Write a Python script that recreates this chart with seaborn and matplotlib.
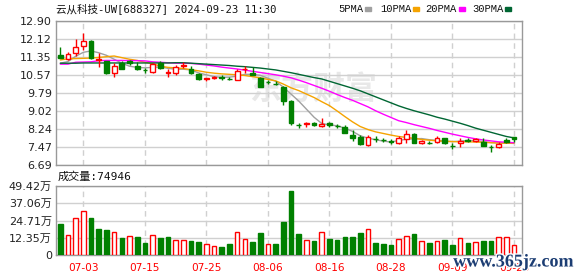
import numpy as np
import pandas as pd
import matplotlib
matplotlib.use("Agg")
import matplotlib.pyplot as plt
import matplotlib.patheffects as pe
from matplotlib.patches import Rectangle
import seaborn as sns

# ---------------- data ----------------
title = "云从科技-UW[688327] 2024-09-23 11:30"
dates = ["06-28", "07-01", "07-02", "07-03", "07-04", "07-05", "07-08", "07-09", "07-10", "07-11",
         "07-12", "07-15", "07-16", "07-17", "07-18", "07-19", "07-22", "07-23", "07-24", "07-25",
         "07-26", "07-29", "07-30", "07-31", "08-01", "08-02", "08-05", "08-06", "08-07", "08-08",
         "08-09", "08-12", "08-13", "08-14", "08-15", "08-16", "08-19", "08-20", "08-21", "08-22",
         "08-23", "08-26", "08-27", "08-28", "08-29", "08-30", "09-02", "09-03", "09-04", "09-05",
         "09-06", "09-09", "09-10", "09-11", "09-12", "09-13", "09-18", "09-19", "09-20", "09-23"]
open_ = [11.43, 11.28, 11.51, 11.81, 12.04, 11.22, 11.17, 10.64, 11.08, 11.17,
         10.96, 10.80, 10.71, 11.10, 10.66, 10.65, 10.98, 10.82, 10.61, 10.38,
         10.45, 10.47, 10.41, 10.36, 10.81, 10.67, 10.45, 10.27, 10.20, 10.07,
         9.46, 8.42, 8.47, 8.49, 8.38, 8.51, 8.38, 8.32, 7.98, 7.90,
         7.56, 7.82, 7.77, 7.72, 7.64, 7.80, 8.02, 7.64, 7.66, 7.67,
         7.84, 7.53, 7.64, 7.78, 7.73, 7.70, 7.46, 7.48, 7.77, 7.88]
high = [11.78, 11.55, 12.11, 12.37, 12.06, 11.53, 11.19, 11.08, 11.19, 11.22,
        11.13, 10.86, 11.11, 11.16, 10.82, 11.01, 11.13, 10.96, 10.67, 10.46,
        10.52, 10.55, 10.48, 10.84, 10.98, 10.90, 10.47, 10.35, 10.30, 10.08,
        9.48, 8.50, 8.56, 8.55, 8.72, 8.56, 8.46, 8.41, 8.22, 7.98,
        7.99, 7.95, 7.85, 7.80, 7.93, 8.20, 8.08, 7.78, 7.72, 7.92,
        7.87, 7.65, 7.84, 7.86, 7.87, 7.84, 7.56, 7.67, 7.86, 7.89]
low = [11.30, 11.22, 11.39, 11.65, 11.28, 10.93, 10.63, 10.50, 10.83, 11.01,
       10.79, 10.65, 10.67, 10.84, 10.50, 10.56, 10.88, 10.63, 10.36, 10.30,
       10.40, 10.36, 10.35, 10.35, 10.67, 10.58, 10.05, 10.19, 10.12, 9.26,
       8.43, 8.27, 8.33, 8.37, 8.32, 8.35, 8.29, 8.05, 7.71, 7.56,
       7.50, 7.70, 7.67, 7.60, 7.59, 7.65, 7.62, 7.60, 7.60, 7.63,
       7.58, 7.40, 7.47, 7.68, 7.70, 7.50, 7.24, 7.41, 7.63, 7.68]
close = [11.32, 11.46, 11.76, 12.02, 11.30, 11.25, 10.67, 10.96, 10.84, 11.08,
         10.83, 10.78, 11.05, 10.86, 10.68, 10.90, 11.00, 10.65, 10.42, 10.44,
         10.47, 10.45, 10.39, 10.74, 10.83, 10.59, 10.07, 10.25, 10.17, 9.43,
         8.50, 8.40, 8.49, 8.41, 8.47, 8.40, 8.37, 8.08, 7.84, 7.61,
         7.88, 7.80, 7.75, 7.67, 7.84, 8.02, 7.63, 7.74, 7.65, 7.84,
         7.64, 7.52, 7.72, 7.71, 7.81, 7.52, 7.45, 7.60, 7.67, 7.82]
ma5 = [11.08, 11.15, 11.38, 11.55, 11.61, 11.53, 11.42, 11.25, 11.08, 10.95,
       10.90, 10.88, 10.90, 10.92, 10.86, 10.82, 10.82, 10.79, 10.66, 10.58,
       10.50, 10.47, 10.48, 10.52, 10.60, 10.60, 10.56, 10.43, 10.30, 10.05,
       9.75, 9.45, 9.10, 8.75, 8.48, 8.42, 8.38, 8.28, 8.14, 7.95,
       7.85, 7.78, 7.72, 7.68, 7.75, 7.80, 7.82, 7.83, 7.78, 7.75,
       7.72, 7.70, 7.72, 7.75, 7.74, 7.70, 7.66, 7.64, 7.63, 7.62]
ma10 = [11.22, 11.27, 11.28, 11.29, 11.30, 11.33, 11.36, 11.39, 11.32, 11.25,
        11.20, 11.12, 11.06, 10.95, 10.90, 10.88, 10.85, 10.80, 10.75, 10.69,
        10.65, 10.62, 10.60, 10.58, 10.55, 10.50, 10.45, 10.38, 10.32, 10.18,
        10.02, 9.90, 9.75, 9.60, 9.42, 9.25, 9.02, 8.78, 8.55, 8.35,
        8.22, 8.12, 8.05, 7.98, 7.92, 7.88, 7.84, 7.79, 7.76, 7.73,
        7.71, 7.70, 7.69, 7.69, 7.68, 7.67, 7.65, 7.64, 7.63, 7.63]
ma20 = [11.04, 11.04, 11.12, 11.13, 11.14, 11.19, 11.20, 11.20, 11.20, 11.19,
        11.19, 11.18, 11.14, 11.12, 11.10, 11.08, 11.08, 11.07, 11.04, 11.00,
        10.96, 10.91, 10.87, 10.83, 10.78, 10.73, 10.68, 10.63, 10.58, 10.52,
        10.45, 10.35, 10.24, 10.12, 10.00, 9.87, 9.73, 9.60, 9.48, 9.34,
        9.20, 9.03, 8.88, 8.74, 8.60, 8.52, 8.43, 8.35, 8.27, 8.18,
        8.10, 8.02, 7.95, 7.88, 7.82, 7.77, 7.73, 7.69, 7.67, 7.65]
ma30 = [11.08, 11.08, 11.08, 11.09, 11.09, 11.09, 11.09, 11.09, 11.09, 11.09,
        11.09, 11.09, 11.09, 11.09, 11.09, 11.10, 11.10, 11.08, 11.06, 11.04,
        11.02, 11.00, 10.98, 10.95, 10.93, 10.90, 10.87, 10.83, 10.79, 10.73,
        10.67, 10.60, 10.53, 10.46, 10.40, 10.30, 10.20, 10.10, 10.00, 9.89,
        9.76, 9.63, 9.50, 9.37, 9.24, 9.13, 9.03, 8.94, 8.85, 8.75,
        8.67, 8.58, 8.49, 8.39, 8.28, 8.19, 8.10, 8.01, 7.92, 7.86]
volume_wan = [22.4, 14.1, 26.3, 31.3, 26.5, 18.6, 17.9, 16.5, 12.2, 13.4,
              12.9, 8.6, 14.1, 12.2, 12.9, 10.7, 10.7, 10.3, 9.6, 7.9,
              6.4, 5.7, 7.9, 16.5, 11.2, 9.6, 15.8, 7.9, 7.9, 23.6,
              45.8, 15.0, 10.7, 10.0, 16.5, 11.5, 10.7, 12.9, 12.9, 15.8,
              18.4, 8.6, 7.9, 7.2, 11.2, 13.6, 15.0, 10.0, 8.6, 10.0,
              10.7, 7.2, 11.9, 8.6, 9.3, 9.8, 10.3, 12.7, 12.7, 7.49]
latest_volume = 74946
price_ticks = ["12.90", "12.12", "11.35", "10.57", "9.79", "9.02", "8.24", "7.47", "6.69"]
volume_ticks = ["49.42万", "37.06万", "24.71万", "12.35万", "0"]
date_ticks = ["07-03", "07-15", "07-25", "08-06", "08-16", "08-28", "09-09", "09-23"]
legend_labels = ["5PMA", "10PMA", "20PMA", "30PMA"]

# ---------------- style ----------------
sns.set_style("white")
plt.rcParams["font.family"] = ["DejaVu Sans", "Noto Sans CJK SC"]
plt.rcParams["axes.unicode_minus"] = False

RED = "#ff0000"
GREEN = "#008000"
MA_COLORS = ["#a0a0a0", "#f5a300", "#ff00ff", "#006633"]
SPINE = "#999999"
GRID = "#d0d0d0"
W, H = 578, 276


def rect(l, t, r, b):
    return [l / W, 1 - b / H, (r - l) / W, (b - t) / H]


fig = plt.figure(figsize=(W / 100, H / 100), dpi=100)
ax = fig.add_axes(rect(56, 21, 522, 165))
axv = fig.add_axes(rect(56, 186, 522, 255))

df = pd.DataFrame({"date": dates, "open": open_, "high": high, "low": low,
                   "close": close, "ma5": ma5, "ma10": ma10, "ma20": ma20,
                   "ma30": ma30, "vol": volume_wan})
df["x"] = np.arange(len(df))
up = df["close"] > df["open"]
prev_close = df["close"].shift(1).fillna(df["open"])
vol_up = df["close"] >= prev_close

xlim = (-0.56, len(df) - 1 + 1.04)
tick_pos = [dates.index(d) for d in date_ticks]

# watermark (behind everything)
ax.text(0.551, 0.52, "东方财富", transform=ax.transAxes, ha="center", va="center",
        fontsize=23, fontweight="bold", family=["Noto Sans CJK SC"], color="#e8e8e8", zorder=0.5)

# ---------------- price panel ----------------
for col, c in zip(["ma5", "ma10", "ma20", "ma30"], MA_COLORS):
    sns.lineplot(data=df, x="x", y=col, ax=ax, color=c, lw=1.0, legend=False, zorder=3)

cc = np.where(up, RED, GREEN)
ax.vlines(df["x"], df["low"], df["high"], colors=cc, lw=1.0, zorder=4)
body_lo = np.minimum(df["open"], df["close"])
body_h = np.maximum(np.abs(df["close"] - df["open"]), 0.004)
ax.bar(df["x"], body_h, bottom=body_lo, width=0.62,
       color=np.where(up, "white", GREEN), edgecolor=cc, lw=1.0, zorder=5)

ax.set_xlim(*xlim)
ax.set_ylim(float(price_ticks[-1]), float(price_ticks[0]))
ax.set_yticks([float(t) for t in price_ticks])
ax.set_yticklabels(price_ticks)
ax.set_xticks(tick_pos)
ax.set_xticklabels([])
ax.set_xlabel("")
ax.set_ylabel("")

# ---------------- volume panel ----------------
axv.bar(df["x"], df["vol"], width=0.6,
        color=np.where(vol_up, "white", GREEN),
        edgecolor=np.where(vol_up, RED, GREEN), lw=1.0, zorder=4)
axv.set_xlim(*xlim)
vt = [float(t.replace("万", "")) for t in volume_ticks]
axv.set_ylim(0, vt[0])
axv.set_yticks(vt)
axv.set_yticklabels(volume_ticks)
axv.set_xticks(tick_pos)
axv.set_xticklabels(date_ticks)

for a in (ax, axv):
    a.set_axisbelow(True)
    a.yaxis.grid(True, color=GRID, lw=1.0, ls="-")
    a.xaxis.grid(True, color=GRID, lw=1.0, ls=(0, (4, 3)))
    for s in a.spines.values():
        s.set_color(SPINE)
        s.set_linewidth(1.0)
        s.set_visible(True)
    a.tick_params(axis="y", length=0, pad=3, labelsize=8, labelcolor="#222222")
    a.tick_params(axis="x", length=0, pad=6, labelsize=7.6, labelcolor=RED)

# ---------------- texts ----------------
fig.text(56 / W, 1 - 8.5 / H, title, ha="left", va="center", fontsize=7.6,
         family=["DejaVu Sans Mono", "Noto Sans CJK SC"], color="#111111")

leg_x = [338, 380, 425, 472]
sq_x = [365, 413, 459, 505]
for lab, lx, sx, c in zip(legend_labels, leg_x, sq_x, MA_COLORS):
    fig.text(lx / W, 1 - 9 / H, lab, ha="left", va="center", fontsize=7.6,
             family=["Liberation Mono"], color="#111111")
    fig.patches.append(Rectangle((sx / W, 1 - 11 / H), 6 / W, 4 / H,
                                 transform=fig.transFigure, color=c, figure=fig))

fig.text(58 / W, 1 - 177 / H, "成交量:%d" % latest_volume, ha="left", va="center",
         fontsize=8, family=["DejaVu Sans Mono", "Noto Sans CJK SC"], color="#111111")

fig.text(513 / W, 1 - 262 / H, "www.365jz.com", ha="center", va="center", fontsize=13,
         family=["Liberation Serif"], fontweight="bold", color="#1c3d73",
         path_effects=[pe.withStroke(linewidth=2, foreground="white")])

fig.savefig("out.png", dpi=100)
